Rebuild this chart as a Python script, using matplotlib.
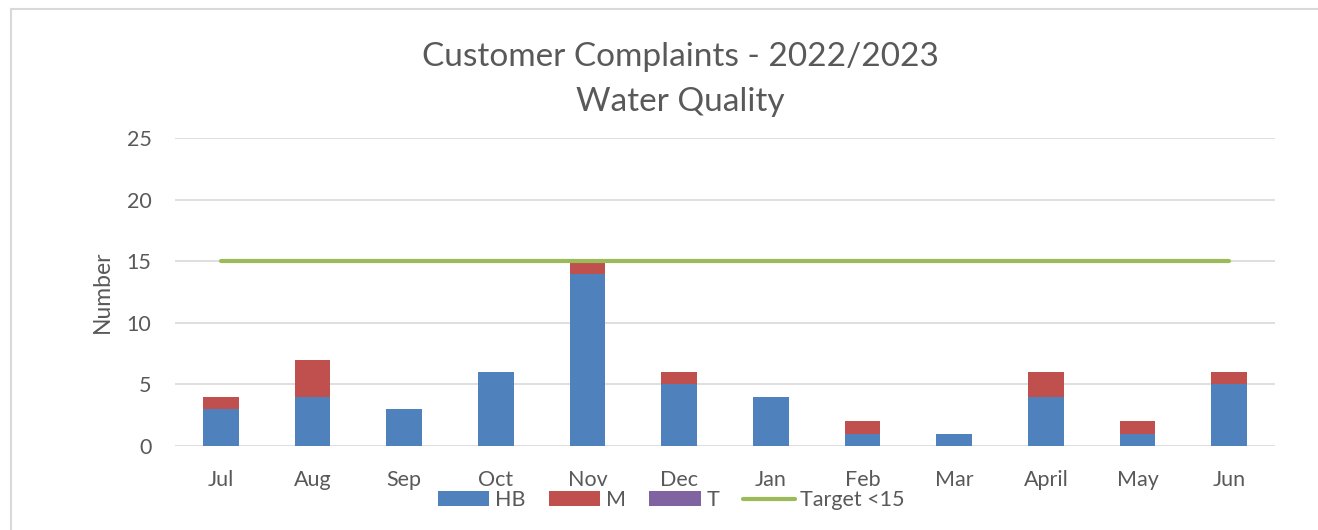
import matplotlib
matplotlib.use("Agg")
import matplotlib.pyplot as plt
from matplotlib.lines import Line2D
import numpy as np

plt.rcParams['font.family'] = ['Lato', 'DejaVu Sans']

# data
months = ['Jul', 'Aug', 'Sep', 'Oct', 'Nov', 'Dec', 'Jan', 'Feb', 'Mar', 'April', 'May', 'Jun']
hb = [3, 4, 3, 6, 14, 5, 4, 1, 1, 4, 1, 5]
m = [1, 3, 0, 0, 1, 1, 0, 1, 0, 2, 1, 1]
t = [0, 0, 0, 0, 0, 0, 0, 0, 0, 0, 0, 0]
target = [15] * 12

txt = '#595959'
grid = '#D9D9D9'

fig = plt.figure(figsize=(13.18, 5.30), dpi=100)
ax = fig.add_axes([175 / 1318, 1 - 446 / 530, 1100 / 1318, 308 / 530])

x = np.arange(len(months))
w = 0.39
hb_arr = np.array(hb)
m_arr = np.array(m)
b1 = ax.bar(x, hb, w, color='#4F81BD', label='HB', zorder=2)
b2 = ax.bar(x, m, w, bottom=hb_arr, color='#C0504D', label='M', zorder=2)
b3 = ax.bar(x, t, w, bottom=hb_arr + m_arr, color='#8064A2', label='T', zorder=2)
ln, = ax.plot(x, target, color='#9BBB59', lw=3, solid_capstyle='round', label='Target <15', zorder=3)

ax.set_xlim(-0.5, len(months) - 0.5)
ax.set_ylim(0, 25)
ax.set_yticks(range(0, 26, 5))
ax.set_xticks(x)
ax.set_xticklabels(months)
ax.yaxis.grid(True, color=grid, lw=1.2, zorder=0)
ax.set_axisbelow(True)
for s in ax.spines.values():
    s.set_visible(False)
ax.tick_params(length=0, labelsize=15.5, colors=txt)
ax.tick_params(axis='x', pad=17)
ax.tick_params(axis='y', pad=17)
ax.set_ylabel('Number', fontsize=16.5, color=txt, labelpad=10)

fig.text(680 / 1318, 1 - 57 / 530, 'Customer Complaints - 2022/2023', ha='center', va='center',
         fontsize=24, color=txt)
fig.text(680 / 1318, 1 - 102 / 530, 'Water Quality', ha='center', va='center',
         fontsize=24, color=txt)

fig.legend([b1, b2, b3, ln], ['HB', 'M', 'T', 'Target <15'], loc='center',
           bbox_to_anchor=(671 / 1318, 1 - 500 / 530), ncol=4, frameon=False,
           fontsize=15.5, handlelength=2.4, handleheight=0.65, handletextpad=0.25,
           columnspacing=1.1, labelcolor=txt)

# light chart border
fig.add_artist(Line2D([11 / 1318, 11 / 1318], [0, 1 - 9 / 530], color=grid, lw=1.5))
fig.add_artist(Line2D([11 / 1318, 1], [1 - 9 / 530, 1 - 9 / 530], color=grid, lw=1.5))

fig.savefig('out.png', dpi=100)
